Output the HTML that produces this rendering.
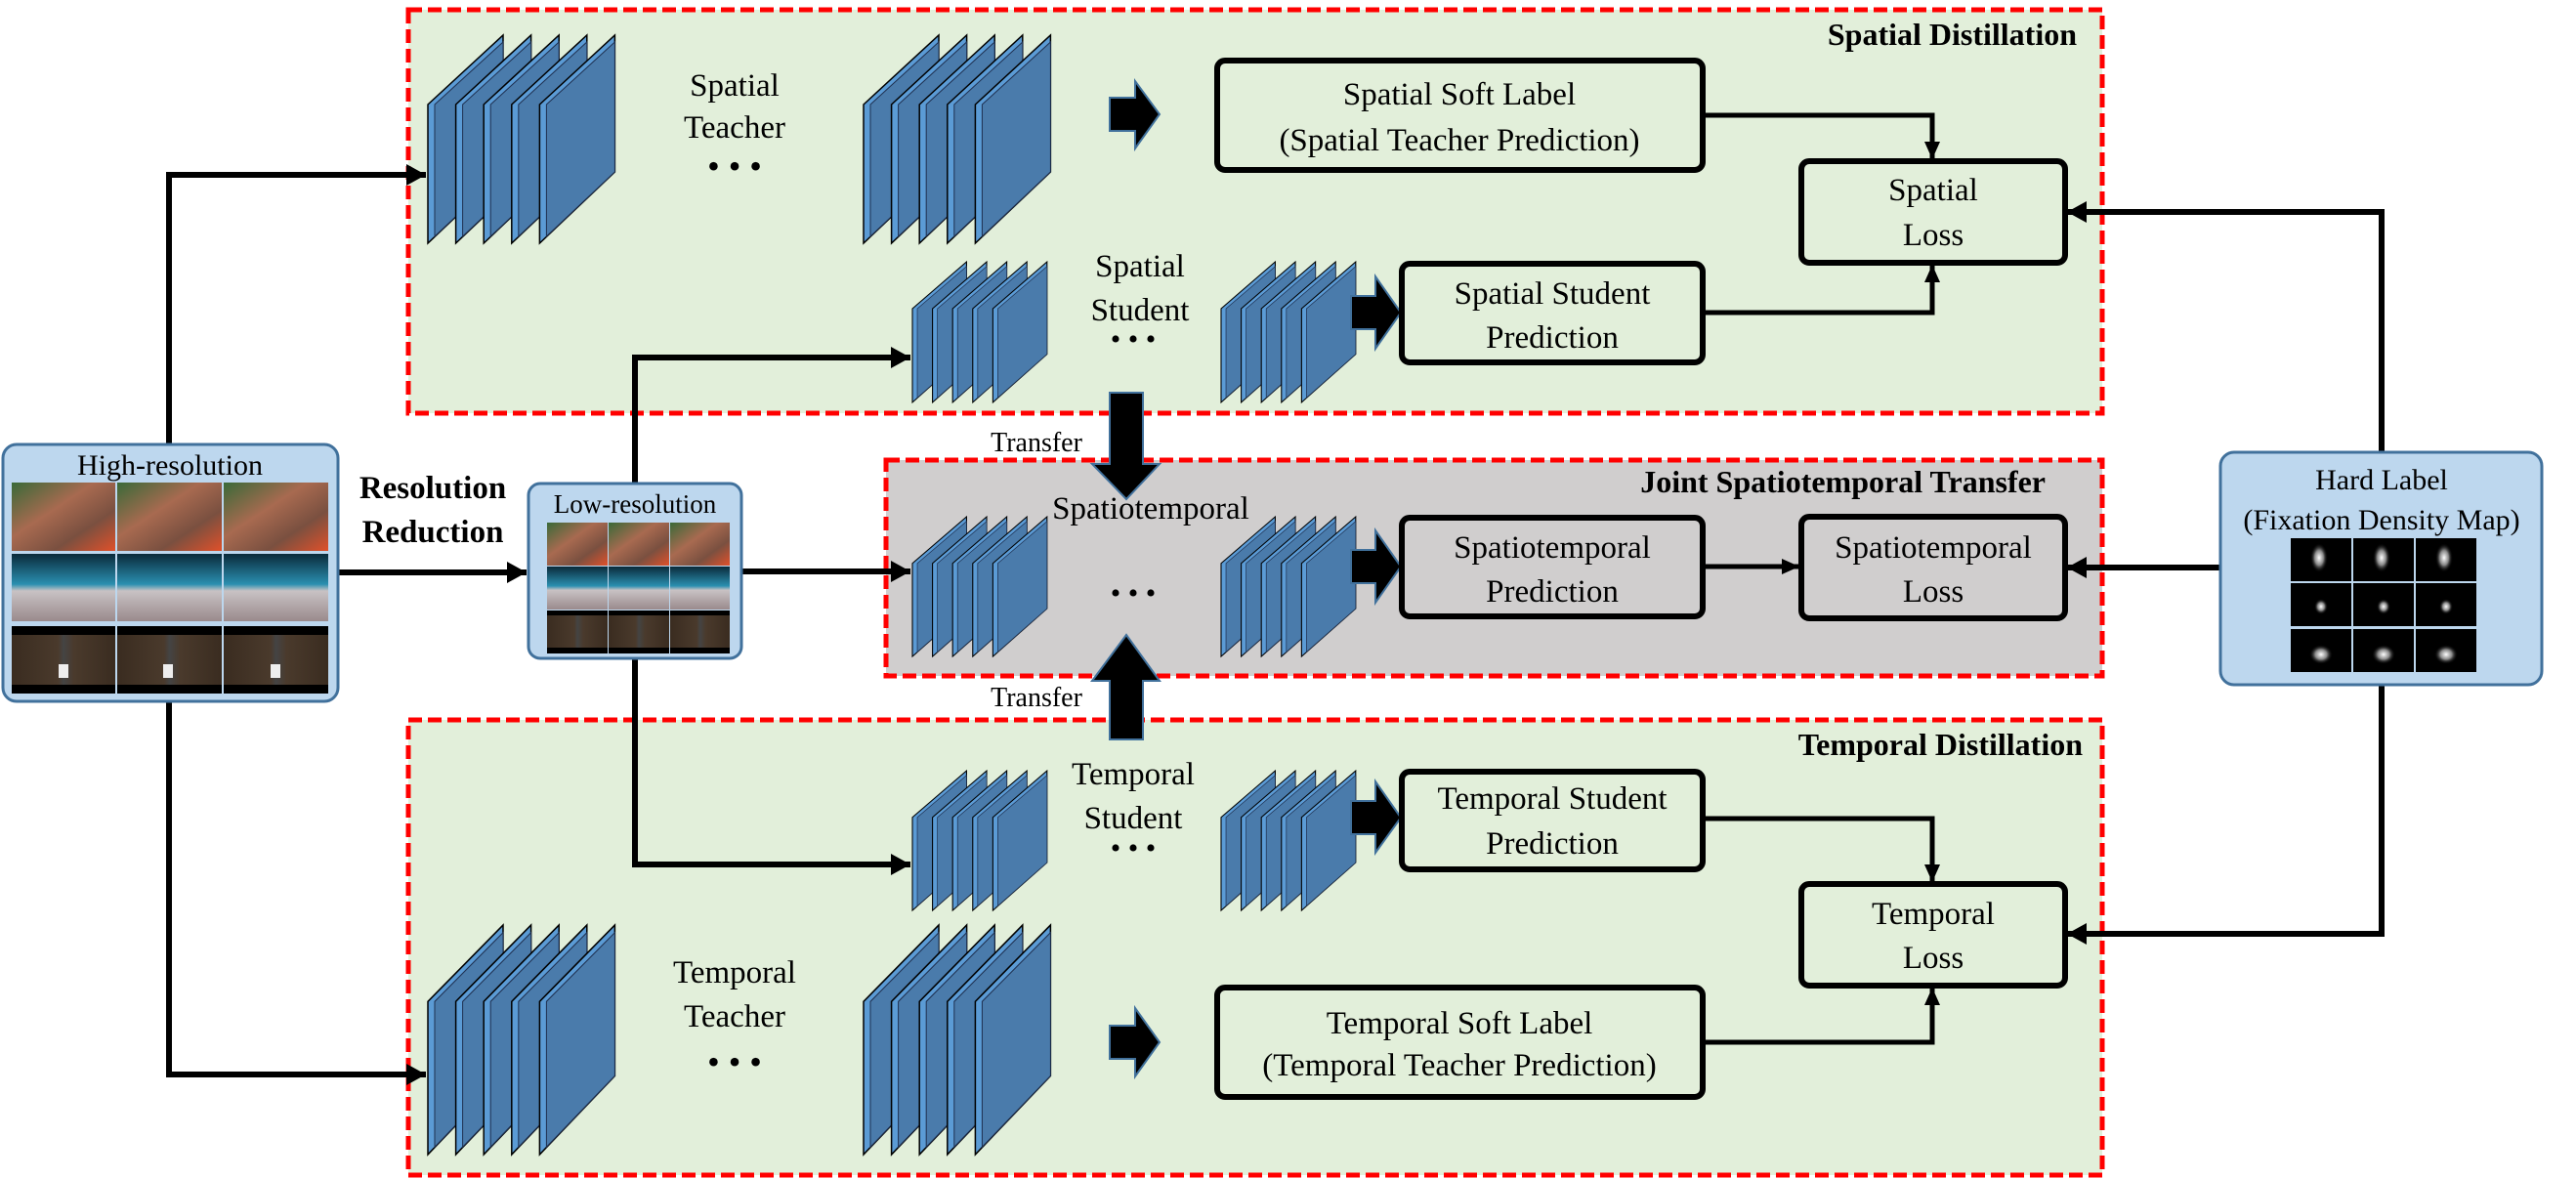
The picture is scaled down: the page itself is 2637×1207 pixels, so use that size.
<!DOCTYPE html>
<html><head><meta charset="utf-8"><style>
html,body{margin:0;padding:0;background:#fff;}
svg{display:block;font-family:"Liberation Serif","Times New Roman",serif;}
svg text{font-family:"Liberation Serif","Times New Roman",serif;fill:#000;}
</style></head><body>
<svg width="2637" height="1207" viewBox="0 0 2637 1207" xmlns="http://www.w3.org/2000/svg" font-family="Liberation Serif, serif">
<defs>
<g id="layer">
<polygon points="0,71 77,0 77,140 0,213" fill="#5b9bd5" stroke="#000" stroke-width="1.5"/>
<polygon points="7,71 77,7 77,140 7,206" fill="#4a7bab" stroke="#1f3050" stroke-width="1"/>
</g>
<g id="stk">
<use href="#layer" x="0"/><use href="#layer" x="28.6"/><use href="#layer" x="57.2"/><use href="#layer" x="85.8"/><use href="#layer" x="114.4"/>
</g>
<marker id="ah" markerUnits="userSpaceOnUse" markerWidth="22" markerHeight="24" refX="20" refY="12" orient="auto">
<polygon points="0,1 20,12 0,23" fill="#000"/></marker>
<marker id="ah2" markerUnits="userSpaceOnUse" markerWidth="18" markerHeight="20" refX="18" refY="10" orient="auto">
<polygon points="0,2 18,10 0,18" fill="#000"/></marker>
<linearGradient id="sky" x1="0" y1="0" x2="0" y2="1">
<stop offset="0" stop-color="#0a2a3a"/><stop offset="0.45" stop-color="#2a8fb0"/><stop offset="0.55" stop-color="#c8c2c4"/><stop offset="1" stop-color="#9a8a8c"/></linearGradient>
<linearGradient id="city" x1="0" y1="0" x2="1" y2="1">
<stop offset="0" stop-color="#3a6a38"/><stop offset="0.4" stop-color="#a86a50"/><stop offset="0.7" stop-color="#7a5040"/><stop offset="1" stop-color="#e0502a"/></linearGradient>
<linearGradient id="road" x1="0" y1="0" x2="1" y2="0">
<stop offset="0" stop-color="#3a2c20"/><stop offset="0.45" stop-color="#4a3a2c"/><stop offset="0.5" stop-color="#444"/><stop offset="0.6" stop-color="#4a3a2c"/><stop offset="1" stop-color="#3a2c20"/></linearGradient>
<radialGradient id="blob"><stop offset="0" stop-color="#fff"/><stop offset="0.5" stop-color="#888"/><stop offset="1" stop-color="#000" stop-opacity="0"/></radialGradient>
</defs>

<rect x="418" y="10" width="1734" height="413" fill="#e2efda" stroke="#ff0000" stroke-width="5" stroke-dasharray="14 6"/>
<rect x="907" y="471" width="1245" height="221" fill="#d0cece" stroke="#ff0000" stroke-width="5" stroke-dasharray="14 6"/>
<rect x="418" y="737" width="1734" height="466" fill="#e2efda" stroke="#ff0000" stroke-width="5" stroke-dasharray="14 6"/>

<text x="2126" y="46" font-size="32" font-weight="bold" text-anchor="end" font-family="Liberation Serif, serif">Spatial Distillation</text>
<text x="2094" y="504" font-size="32" font-weight="bold" text-anchor="end" font-family="Liberation Serif, serif">Joint Spatiotemporal Transfer</text>
<text x="2132" y="773" font-size="32" font-weight="bold" text-anchor="end" font-family="Liberation Serif, serif">Temporal Distillation</text>

<use href="#stk" transform="translate(438,36)"/>
<use href="#stk" transform="translate(884,36)"/>
<use href="#stk" transform="translate(934,268) scale(0.72,0.676)"/>
<use href="#stk" transform="translate(1250,268) scale(0.72,0.676)"/>
<use href="#stk" transform="translate(934,529) scale(0.72,0.672)"/>
<use href="#stk" transform="translate(1250,529) scale(0.72,0.672)"/>
<use href="#stk" transform="translate(934,789) scale(0.72,0.672)"/>
<use href="#stk" transform="translate(1250,789) scale(0.72,0.672)"/>
<use href="#stk" transform="translate(438,947) scale(1,1.103)"/>
<use href="#stk" transform="translate(884,947) scale(1,1.103)"/>

<g font-size="33" text-anchor="middle" font-family="Liberation Serif, serif">
<text x="752" y="98">Spatial</text><text x="752" y="141">Teacher</text><text x="752" y="182" font-size="36">• • •</text>
<text x="1167" y="283">Spatial</text><text x="1167" y="328">Student</text><text x="1160" y="357" font-size="30">• • •</text>
<text x="1178" y="531">Spatiotemporal</text><text x="1160" y="617" font-size="30">• • •</text>
<text x="1160" y="803">Temporal</text><text x="1160" y="848">Student</text><text x="1160" y="878" font-size="30">• • •</text>
<text x="752" y="1006">Temporal</text><text x="752" y="1051">Teacher</text><text x="752" y="1099" font-size="36">• • •</text>
</g>

<g fill="#000" stroke="#41719c" stroke-width="2">
<polygon points="1136,100 1162,100 1162,83 1187,117 1162,152 1162,134 1136,134"/>
<polygon points="1136,1050 1162,1050 1162,1032 1187,1067 1162,1102 1162,1084 1136,1084"/>
<polygon points="1383,303 1408,303 1408,283 1434,320 1408,357 1408,337 1383,337"/>
<polygon points="1383,563 1408,563 1408,543 1434,580 1408,617 1408,597 1383,597"/>
<polygon points="1383,820 1408,820 1408,800 1434,837 1408,873 1408,854 1383,854"/>
<polygon points="1136,402 1170,402 1170,475 1187,475 1153,511 1118,475 1136,475"/>
<polygon points="1136,757 1170,757 1170,697 1187,697 1153,650 1118,697 1136,697"/>
</g>
<text x="1061" y="462" font-size="28" text-anchor="middle" font-family="Liberation Serif, serif">Transfer</text>
<text x="1061" y="723" font-size="28" text-anchor="middle" font-family="Liberation Serif, serif">Transfer</text>

<g fill="none" stroke="#000" stroke-width="6">
<rect x="1246" y="62" width="497" height="112" rx="8"/>
<rect x="1844" y="165" width="270" height="104" rx="8"/>
<rect x="1435" y="270" width="308" height="101" rx="8"/>
<rect x="1435" y="530" width="308" height="101" rx="8"/>
<rect x="1844" y="529" width="270" height="104" rx="8"/>
<rect x="1435" y="790" width="308" height="100" rx="8"/>
<rect x="1844" y="905" width="270" height="104" rx="8"/>
<rect x="1246" y="1011" width="497" height="112" rx="8"/>
</g>
<g font-size="33" text-anchor="middle" font-family="Liberation Serif, serif">
<text x="1494" y="107">Spatial Soft Label</text><text x="1494" y="154">(Spatial Teacher Prediction)</text>
<text x="1979" y="205">Spatial</text><text x="1979" y="251">Loss</text>
<text x="1589" y="311">Spatial Student</text><text x="1589" y="356">Prediction</text>
<text x="1589" y="571">Spatiotemporal</text><text x="1589" y="616">Prediction</text>
<text x="1979" y="571">Spatiotemporal</text><text x="1979" y="616">Loss</text>
<text x="1589" y="828">Temporal Student</text><text x="1589" y="874">Prediction</text>
<text x="1979" y="946">Temporal</text><text x="1979" y="991">Loss</text>
<text x="1494" y="1058">Temporal Soft Label</text><text x="1494" y="1101">(Temporal Teacher Prediction)</text>
</g>

<g fill="none" stroke="#000" stroke-width="6">
<polyline points="173,455 173,179 436,179" marker-end="url(#ah)"/>
<polyline points="173,718 173,1100 436,1100" marker-end="url(#ah)"/>
<line x1="347" y1="586" x2="539" y2="586" marker-end="url(#ah)"/>
<polyline points="650,495 650,366 932,366" marker-end="url(#ah)"/>
<polyline points="650,674 650,885 932,885" marker-end="url(#ah)"/>
<line x1="759" y1="585" x2="932" y2="585" marker-end="url(#ah)"/>
<polyline points="2438,462 2438,217 2116,217" marker-end="url(#ah)"/>
<polyline points="2438,701 2438,956 2116,956" marker-end="url(#ah)"/>
<line x1="2273" y1="581" x2="2116" y2="581" marker-end="url(#ah)"/>
</g>
<g fill="none" stroke="#000" stroke-width="5">
<polyline points="1743,118 1978,118 1978,163" marker-end="url(#ah2)"/>
<polyline points="1743,320 1978,320 1978,271" marker-end="url(#ah2)"/>
<line x1="1743" y1="580" x2="1842" y2="580" marker-end="url(#ah2)"/>
<polyline points="1743,838 1978,838 1978,903" marker-end="url(#ah2)"/>
<polyline points="1743,1067 1978,1067 1978,1011" marker-end="url(#ah2)"/>
</g>

<rect x="3" y="455" width="343" height="263" rx="14" fill="#bdd7ee" stroke="#41719c" stroke-width="3"/>
<text x="174" y="486" font-size="30" text-anchor="middle" font-family="Liberation Serif, serif">High-resolution</text>
<g>
<rect x="12" y="494" width="106" height="70" fill="url(#city)"/><rect x="120" y="494" width="107" height="70" fill="url(#city)"/><rect x="229" y="494" width="107" height="70" fill="url(#city)"/>
<rect x="12" y="567" width="106" height="69" fill="url(#sky)"/><rect x="120" y="567" width="107" height="69" fill="url(#sky)"/><rect x="229" y="567" width="107" height="69" fill="url(#sky)"/>
<rect x="12" y="641" width="106" height="69" fill="#000"/><rect x="120" y="641" width="107" height="69" fill="#000"/><rect x="229" y="641" width="107" height="69" fill="#000"/>
<rect x="12" y="650" width="106" height="51" fill="url(#road)"/><rect x="120" y="650" width="107" height="51" fill="url(#road)"/><rect x="229" y="650" width="107" height="51" fill="url(#road)"/>
<rect x="60" y="680" width="10" height="14" fill="#eee"/><rect x="167" y="680" width="10" height="14" fill="#eee"/><rect x="277" y="680" width="10" height="14" fill="#eee"/>
</g>
<text x="443" y="510" font-size="33" font-weight="bold" text-anchor="middle" font-family="Liberation Serif, serif">Resolution</text>
<text x="443" y="555" font-size="33" font-weight="bold" text-anchor="middle" font-family="Liberation Serif, serif">Reduction</text>

<rect x="541" y="495" width="218" height="179" rx="12" fill="#bdd7ee" stroke="#41719c" stroke-width="3"/>
<text x="650" y="525" font-size="27" text-anchor="middle" font-family="Liberation Serif, serif">Low-resolution</text>
<g>
<rect x="560" y="535" width="62" height="44" fill="url(#city)"/><rect x="623" y="535" width="62" height="44" fill="url(#city)"/><rect x="686" y="535" width="61" height="44" fill="url(#city)"/>
<rect x="560" y="580" width="62" height="44" fill="url(#sky)"/><rect x="623" y="580" width="62" height="44" fill="url(#sky)"/><rect x="686" y="580" width="61" height="44" fill="url(#sky)"/>
<rect x="560" y="625" width="62" height="44" fill="#000"/><rect x="623" y="625" width="62" height="44" fill="#000"/><rect x="686" y="625" width="61" height="44" fill="#000"/>
<rect x="560" y="630" width="62" height="33" fill="url(#road)"/><rect x="623" y="630" width="62" height="33" fill="url(#road)"/><rect x="686" y="630" width="61" height="33" fill="url(#road)"/>
</g>

<rect x="2273" y="463" width="329" height="238" rx="14" fill="#bdd7ee" stroke="#41719c" stroke-width="3"/>
<text x="2438" y="501" font-size="30" text-anchor="middle" font-family="Liberation Serif, serif">Hard Label</text>
<text x="2438" y="542" font-size="30" text-anchor="middle" font-family="Liberation Serif, serif">(Fixation Density Map)</text>
<g>
<rect x="2345" y="551" width="62" height="44" fill="#000"/><rect x="2409" y="551" width="62" height="44" fill="#000"/><rect x="2473" y="551" width="62" height="44" fill="#000"/>
<rect x="2345" y="597" width="62" height="44" fill="#000"/><rect x="2409" y="597" width="62" height="44" fill="#000"/><rect x="2473" y="597" width="62" height="44" fill="#000"/>
<rect x="2345" y="644" width="62" height="44" fill="#000"/><rect x="2409" y="644" width="62" height="44" fill="#000"/><rect x="2473" y="644" width="62" height="44" fill="#000"/>
<ellipse cx="2374" cy="571" rx="9" ry="15" fill="url(#blob)"/><ellipse cx="2438" cy="571" rx="9" ry="15" fill="url(#blob)"/><ellipse cx="2502" cy="571" rx="9" ry="15" fill="url(#blob)"/>
<ellipse cx="2376" cy="621" rx="7" ry="8" fill="url(#blob)"/><ellipse cx="2440" cy="621" rx="7" ry="8" fill="url(#blob)"/><ellipse cx="2504" cy="621" rx="7" ry="8" fill="url(#blob)"/>
<ellipse cx="2376" cy="670" rx="12" ry="10" fill="url(#blob)"/><ellipse cx="2440" cy="670" rx="12" ry="10" fill="url(#blob)"/><ellipse cx="2504" cy="670" rx="12" ry="10" fill="url(#blob)"/>
</g>
</svg>
</body></html>
